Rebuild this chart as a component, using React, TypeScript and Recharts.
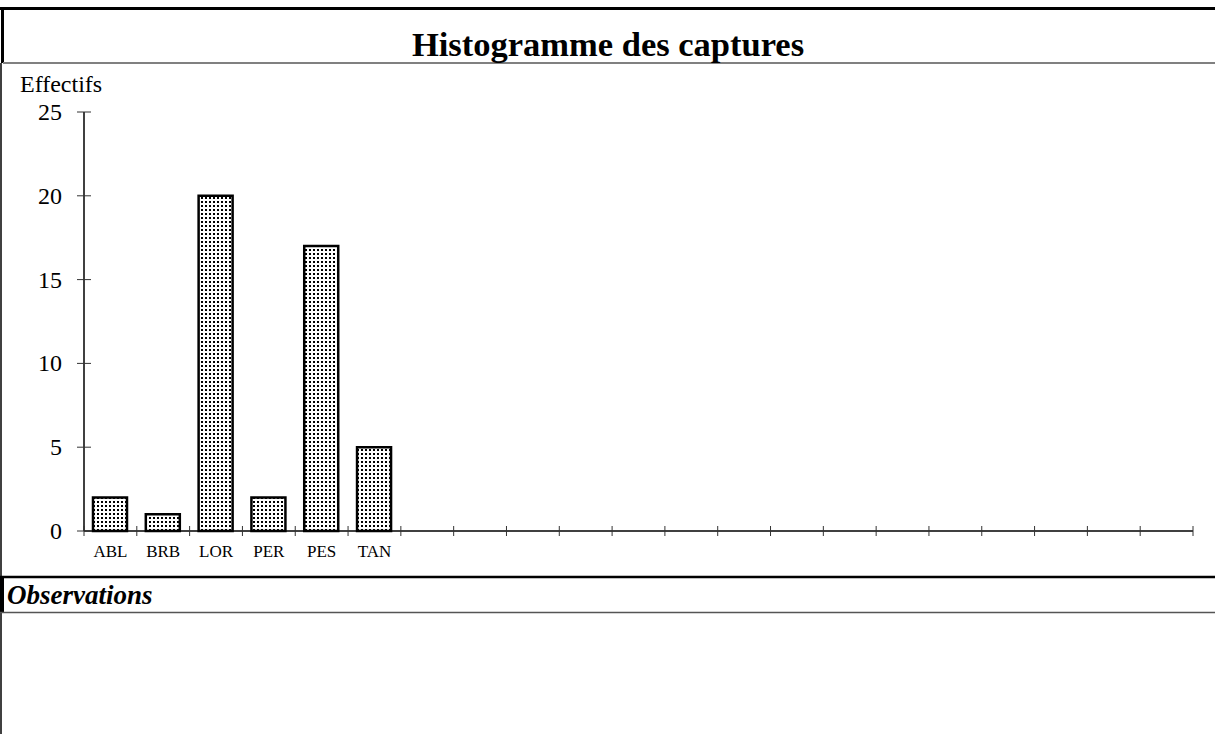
import React from 'react';
import { BarChart, Bar, XAxis, YAxis } from 'recharts';

// captures par espèce
const species = ['ABL', 'BRB', 'LOR', 'PER', 'PES', 'TAN'];
const counts = [2, 1, 20, 2, 17, 5];
const emptySlots = 15;
const yTicks = [0, 5, 10, 15, 20, 25];

const data = [
  ...species.map((name, i) => ({ name, value: counts[i] })),
  ...Array.from({ length: emptySlots }, (_, i) => ({ name: `_${i}`, value: null })),
];

const FONT = '"Liberation Serif", "Times New Roman", serif';

const XTick = (props: any) => {
  const { x, y, payload, index, visibleTicksCount } = props;
  const half = payload.offset || 0;
  const label = String(payload.value).startsWith('_') ? '' : payload.value;
  return (
    <g>
      <line x1={x - half} x2={x - half} y1={y - 5} y2={y + 5} stroke="#333" strokeWidth={1} />
      {index === visibleTicksCount - 1 && (
        <line x1={x + half} x2={x + half} y1={y - 5} y2={y + 5} stroke="#333" strokeWidth={1} />
      )}
      <text x={x} y={y + 26} textAnchor="middle" fontFamily={FONT} fontSize={17} fill="#000">
        {label}
      </text>
    </g>
  );
};

const YTick = (props: any) => {
  const { x, y, payload } = props;
  return (
    <g>
      <line x1={x - 7} x2={x + 7} y1={y} y2={y} stroke="#333" strokeWidth={1} />
      <text x={x - 22} y={y + 8} textAnchor="end" fontFamily={FONT} fontSize={24} fill="#000">
        {payload.value}
      </text>
    </g>
  );
};

const YLabel = (props: any) => {
  const { viewBox } = props;
  return (
    <text x={viewBox.x + 20} y={viewBox.y - 20} fontFamily={FONT} fontSize={24} fill="#000">
      Effectifs
    </text>
  );
};

export default function App() {
  return (
    <div style={{ position: 'absolute', left: 0, top: 0, width: 1215, height: 734, background: '#fff' }}>
      <svg width={0} height={0} style={{ position: 'absolute' }}>
        <defs>
          <pattern id="stipple" width={4} height={4} patternUnits="userSpaceOnUse">
            <rect width={4} height={4} fill="#fff" />
            <rect x={1} y={1} width={2} height={2} fill="#000" />
          </pattern>
        </defs>
      </svg>

      <svg width={1215} height={734} style={{ position: 'absolute', left: 0, top: 0 }}>
        {/* cadre */}
        <line x1={0} x2={1215} y1={8.5} y2={8.5} stroke="#000" strokeWidth={3} />
        <line x1={2.5} x2={2.5} y1={7} y2={63} stroke="#000" strokeWidth={3} />
        <line x1={1} x2={1} y1={63} y2={734} stroke="#000" strokeWidth={1.5} />
        <line x1={3} x2={1215} y1={63} y2={63} stroke="#808080" strokeWidth={2} />
        <text x={608} y={55.5} textAnchor="middle" fontFamily={FONT} fontWeight="bold" fontSize={34.5} fill="#000">
          Histogramme des captures
        </text>

        {/* observations */}
        <line x1={0} x2={1215} y1={577} y2={577} stroke="#000" strokeWidth={2.5} />
        <line x1={2} x2={2} y1={577} y2={612} stroke="#000" strokeWidth={4} />
        <line x1={0} x2={1215} y1={612.5} y2={612.5} stroke="#555" strokeWidth={1.5} />
        <text x={7} y={604} fontFamily={FONT} fontWeight="bold" fontStyle="italic" fontSize={27} fill="#000">
          Observations
        </text>
      </svg>

      <div style={{ position: 'absolute', left: 0, top: 64 }}>
        <BarChart
          width={1215}
          height={513}
          data={data}
          margin={{ top: 48, right: 22, bottom: 6, left: 0 }}
        >
          <XAxis
            dataKey="name"
            interval={0}
            tickSize={0}
            tickMargin={0}
            tickLine={false}
            tick={<XTick />}
            axisLine={{ stroke: '#000', strokeWidth: 1.5 }}
            height={40}
          />
          <YAxis
            domain={[0, 25]}
            ticks={yTicks}
            interval={0}
            width={84}
            tickSize={0}
            tickMargin={0}
            tickLine={false}
            tick={<YTick />}
            axisLine={{ stroke: '#000', strokeWidth: 1.5 }}
            label={<YLabel />}
          />
          <Bar
            dataKey="value"
            barSize={34}
            fill="url(#stipple)"
            stroke="#000"
            strokeWidth={2.5}
            isAnimationActive={false}
          />
        </BarChart>
      </div>
    </div>
  );
}
